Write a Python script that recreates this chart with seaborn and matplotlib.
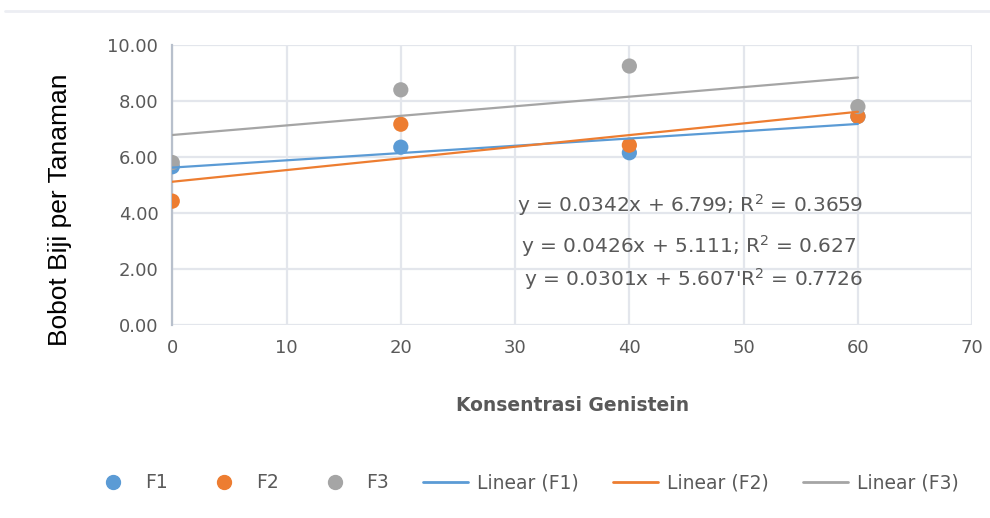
import numpy as np
import pandas as pd
import matplotlib
matplotlib.use("Agg")
import matplotlib.pyplot as plt
from matplotlib.lines import Line2D
import seaborn as sns

# ── Data ─────────────────────────────────────────────────────────────────────
konsentrasi = [0, 20, 40, 60]
f1 = [5.65, 6.35, 6.15, 7.45]
f2 = [4.42, 7.17, 6.42, 7.45]
f3 = [5.80, 8.40, 9.25, 7.80]
series_names = ["F1", "F2", "F3"]
equations = [
    "y = 0.0342x + 6.799; R$^2$ = 0.3659",
    "y = 0.0426x + 5.111; R$^2$ = 0.627",
    "y = 0.0301x + 5.607'R$^2$ = 0.7726",
]

COLORS = ["#5b9bd5", "#ed7d31", "#a5a5a5"]
TXT = "#595959"
GRID = "#e3e6ec"

sns.set_theme(style="white")
plt.rcParams["font.family"] = ["DejaVu Sans"]

df = pd.DataFrame({"x": konsentrasi * 3,
                   "y": f1 + f2 + f3,
                   "seri": np.repeat(series_names, len(konsentrasi))})

fig = plt.figure(figsize=(9.9, 5.18), dpi=100)
ax = fig.add_axes([0.174, 0.373, 0.808, 0.54])

sns.scatterplot(data=df, x="x", y="y", hue="seri", palette=COLORS,
                s=120, edgecolor="none", legend=False, ax=ax, zorder=3)
for name, color in zip(series_names, COLORS):
    sub = df[df["seri"] == name]
    sns.regplot(data=sub, x="x", y="y", scatter=False, ci=None, ax=ax,
                line_kws={"color": color, "lw": 1.6, "zorder": 4})

# trendline equations
ax.text(30.2, 4.29, equations[0], fontsize=14.5, color=TXT, va="center")
ax.text(30.5, 2.82, equations[1], fontsize=14.5, color=TXT, va="center")
ax.text(30.8, 1.62, equations[2], fontsize=14.5, color=TXT, va="center")

ax.set_xlim(0, 70)
ax.set_ylim(0, 10)
ax.set_xticks(range(0, 71, 10))
ax.set_yticks(np.arange(0, 10.1, 2))
ax.set_yticklabels([f"{v:.2f}" for v in np.arange(0, 10.1, 2)])
ax.tick_params(colors=TXT, labelsize=13, length=0, pad=10)
ax.grid(True, color=GRID, lw=1.6)
for side in ["top", "right", "bottom"]:
    ax.spines[side].set_visible(False)
ax.spines["left"].set_color("#b8c0cc")
ax.spines["left"].set_linewidth(1.6)

ax.set_xlabel("Konsentrasi Genistein", fontsize=13.5, fontweight="bold",
              color=TXT, labelpad=28)
ax.set_ylabel("Bobot Biji per Tanaman", fontsize=19, color="black",
              family=["Liberation Sans", "DejaVu Sans"])
ax.yaxis.set_label_coords(-0.125, 0.41)

# top border line
fig.add_artist(Line2D([0.005, 1.0], [0.979, 0.979], color="#eceef3", lw=2))

handles = [Line2D([], [], marker="o", ls="none", color=c, markersize=10)
           for c in COLORS]
handles += [Line2D([], [], color=c, lw=2) for c in COLORS]
labels = series_names + [f"Linear ({n})" for n in series_names]
fig.legend(handles, labels, loc="center", bbox_to_anchor=(0.53, 0.068),
           ncol=6, frameon=False, fontsize=13.5, labelcolor=TXT,
           handlelength=2.4, columnspacing=1.8, handletextpad=0.5)

plt.savefig("out.png", dpi=100)
plt.close()
